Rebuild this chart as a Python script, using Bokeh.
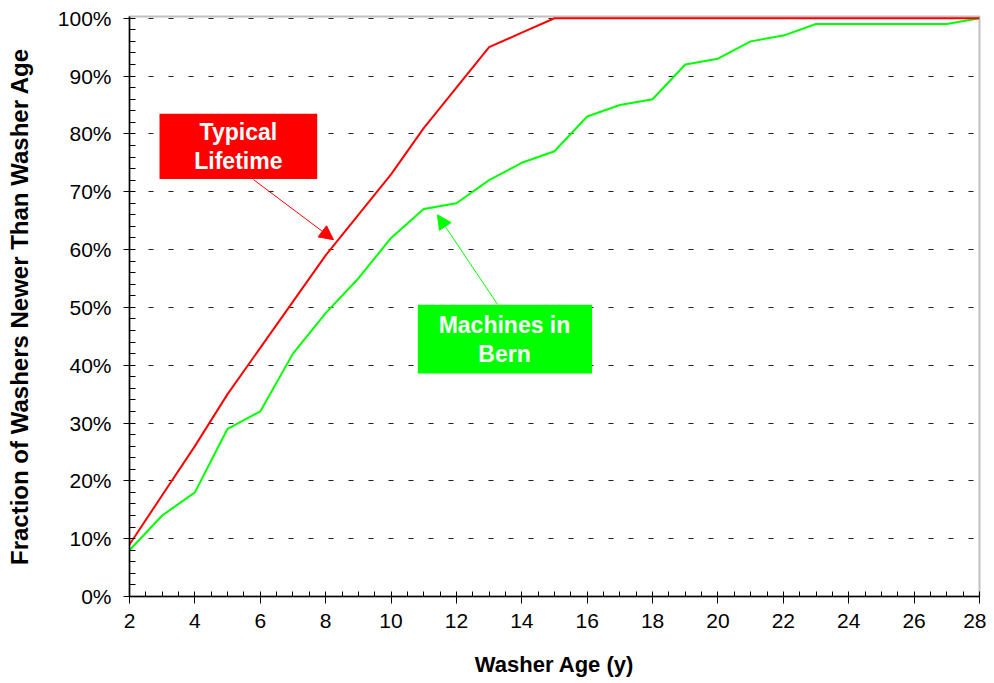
from bokeh.plotting import figure
from bokeh.models import (Range1d, SingleIntervalTicker, PrintfTickFormatter,
                          Arrow, NormalHead)
from bokeh.core.properties import value
from bokeh.embed import file_html
from bokeh.resources import INLINE

# ---- data ----
age = list(range(2, 29))
typical_lifetime = [9, 17.5, 26, 35, 43, 51, 59, 66, 73, 81, 88, 95, 97.5, 100,
                    100, 100, 100, 100, 100, 100, 100, 100, 100, 100, 100, 100, 100]
machines_bern = [8, 14, 18, 29, 32, 42, 49, 55, 62, 67, 68, 72, 75, 77, 83, 85, 86,
                 92, 93, 96, 97, 99, 99, 99, 99, 99, 100]

x_ticks_interval = 2
y_ticks_interval = 10

x_title = "Washer Age (y)"
y_title = "Fraction of Washers Newer Than Washer Age"

# annotation labels
red_label = ["Typical", "Lifetime"]
green_label = ["Machines in", "Bern"]

# annotation layout (data coordinates)
red_box = dict(left=2.918, right=7.742, top=83.5, bottom=72.2)
red_text_x, red_text_y = 5.33, [80.3, 75.3]
red_arrow = dict(x_start=5.79, y_start=72.1, x_end=8.24, y_end=61.7)
green_box = dict(left=10.82, right=16.15, top=50.47, bottom=38.57)
green_text_x, green_text_y = 13.47, [47.0, 42.0]
green_arrow = dict(x_start=13.26, y_start=50.5, x_end=11.42, y_end=66.0)

RED = "#ff0000"
GREEN = "#00ff00"
FONT = "Liberation Sans"

p = figure(frame_width=850, frame_height=580,
           x_range=Range1d(2, 28), y_range=Range1d(0, 100.3),
           output_backend="svg", toolbar_location=None,
           min_border_left=129, min_border_right=7,
           min_border_top=16, min_border_bottom=79,
           background_fill_color="white", border_fill_color="white")

p.outline_line_color = "#c0c0c0"
p.outline_line_width = 2

# axes
p.xaxis.ticker = SingleIntervalTicker(interval=x_ticks_interval, num_minor_ticks=4)
p.yaxis.ticker = SingleIntervalTicker(interval=y_ticks_interval, num_minor_ticks=5)
p.yaxis.formatter = PrintfTickFormatter(format="%d%%")

for ax in (p.xaxis[0], p.yaxis[0]):
    ax.axis_line_color = "black"
    ax.axis_line_width = 1.5
    ax.major_tick_line_color = "black"
    ax.minor_tick_line_color = "black"
    ax.major_label_text_font = FONT
    ax.major_label_text_font_size = "21px"
    ax.major_label_text_color = "black"
    ax.axis_label_text_font = FONT
    ax.axis_label_text_font_style = "bold"
    ax.axis_label_text_color = "black"

p.xaxis.major_tick_in = 4
p.xaxis.major_tick_out = 7
p.xaxis.minor_tick_in = 5
p.xaxis.minor_tick_out = 0
p.xaxis.major_label_standoff = 10
p.xaxis.axis_label = x_title
p.xaxis.axis_label_text_font_size = "22px"
p.xaxis.axis_label_standoff = 21

p.yaxis.major_tick_in = 0
p.yaxis.major_tick_out = 6
p.yaxis.minor_tick_in = 6
p.yaxis.minor_tick_out = 0
p.yaxis.major_label_standoff = 12
p.yaxis.axis_label = y_title
p.yaxis.axis_label_text_font_size = "24px"
p.yaxis.axis_label_standoff = 22

# grid
p.xgrid.grid_line_color = None
p.ygrid.grid_line_color = "#222222"
p.ygrid.grid_line_dash = "5 15"
p.ygrid.grid_line_dash_offset = 1
p.ygrid.grid_line_width = 1

# data lines
p.line(age, machines_bern, line_color=GREEN, line_width=2)
p.line(age, typical_lifetime, line_color=RED, line_width=2)

# annotations
p.quad(left=[red_box["left"]], right=[red_box["right"]], top=[red_box["top"]],
       bottom=[red_box["bottom"]], fill_color=RED, line_color=None)
p.quad(left=[green_box["left"]], right=[green_box["right"]], top=[green_box["top"]],
       bottom=[green_box["bottom"]], fill_color=GREEN, line_color=None)

p.text(x=[red_text_x] * 2, y=red_text_y, text=red_label, text_align="center",
       text_baseline="middle", text_color="white", text_font=value(FONT),
       text_font_style="bold", text_font_size="23px")
p.text(x=[green_text_x] * 2, y=green_text_y, text=green_label, text_align="center",
       text_baseline="middle", text_color="white", text_font=value(FONT),
       text_font_style="bold", text_font_size="23px")

p.add_layout(Arrow(end=NormalHead(size=14, fill_color=RED, line_color=RED),
                   line_color=RED, line_width=1, **red_arrow))
p.add_layout(Arrow(end=NormalHead(size=14, fill_color=GREEN, line_color=GREEN),
                   line_color=GREEN, line_width=1, **green_arrow))

open("out.html", "w").write(file_html(p, INLINE))
